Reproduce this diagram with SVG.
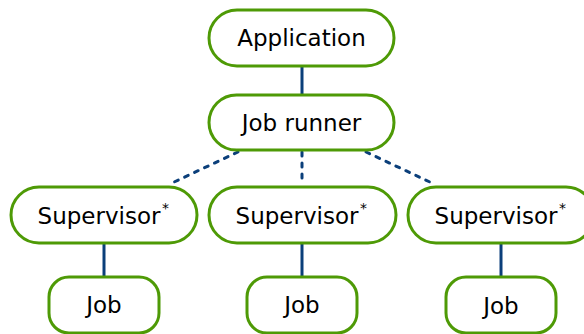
<svg xmlns="http://www.w3.org/2000/svg" width="584" height="334" viewBox="0 0 584 334">
  <style>
    .box { fill: #ffffff; stroke: #4e9a06; stroke-width: 3; }
    .label { font-family: "DejaVu Sans", sans-serif; font-size: 23px; fill: #000000; text-anchor: middle; }
    .star { font-family: "DejaVu Sans", sans-serif; font-size: 14px; fill: #000000; }
    .link { stroke: #0b3f7a; stroke-width: 3; fill: none; }
    .dotted { stroke: #0b3f7a; stroke-width: 3; fill: none; stroke-dasharray: 4 7; stroke-linecap: round; }
  </style>
  <rect width="584" height="334" fill="#ffffff"/>

  <g id="connectors">
    <line class="link" x1="302" y1="66" x2="302" y2="95"/>
    <line class="dotted" x1="238" y1="152" x2="172" y2="183"/>
    <line class="dotted" x1="302" y1="152" x2="302" y2="181"/>
    <line class="dotted" x1="366" y1="152" x2="432" y2="183"/>
    <line class="link" x1="104" y1="243" x2="104" y2="277"/>
    <line class="link" x1="302" y1="243" x2="302" y2="277"/>
    <line class="link" x1="501" y1="243" x2="501" y2="277"/>
  </g>

  <g id="application">
    <rect class="box" x="209" y="10" width="185" height="56" rx="28"/>
    <text class="label" x="301.5" y="46">Application</text>
  </g>

  <g id="job-runner">
    <rect class="box" x="209" y="95" width="185" height="55" rx="27.5"/>
    <text class="label" x="301.5" y="131">Job runner</text>
  </g>

  <g id="supervisor-1">
    <rect class="box" x="11" y="187" width="186" height="56" rx="28"/>
    <text class="label" x="99" y="224">Supervisor</text>
    <text class="star" x="162" y="213">*</text>
  </g>

  <g id="supervisor-2">
    <rect class="box" x="209" y="187" width="187" height="56" rx="28"/>
    <text class="label" x="297" y="224">Supervisor</text>
    <text class="star" x="360" y="213">*</text>
  </g>

  <g id="supervisor-3">
    <rect class="box" x="408" y="187" width="186" height="56" rx="28"/>
    <text class="label" x="496" y="224">Supervisor</text>
    <text class="star" x="559" y="213">*</text>
  </g>

  <g id="job-1">
    <rect class="box" x="49" y="277" width="110" height="56" rx="20"/>
    <text class="label" x="104" y="313">Job</text>
  </g>

  <g id="job-2">
    <rect class="box" x="247" y="277" width="110" height="56" rx="20"/>
    <text class="label" x="302" y="313">Job</text>
  </g>

  <g id="job-3">
    <rect class="box" x="446" y="277" width="110" height="56" rx="20"/>
    <text class="label" x="501" y="314">Job</text>
  </g>
</svg>
